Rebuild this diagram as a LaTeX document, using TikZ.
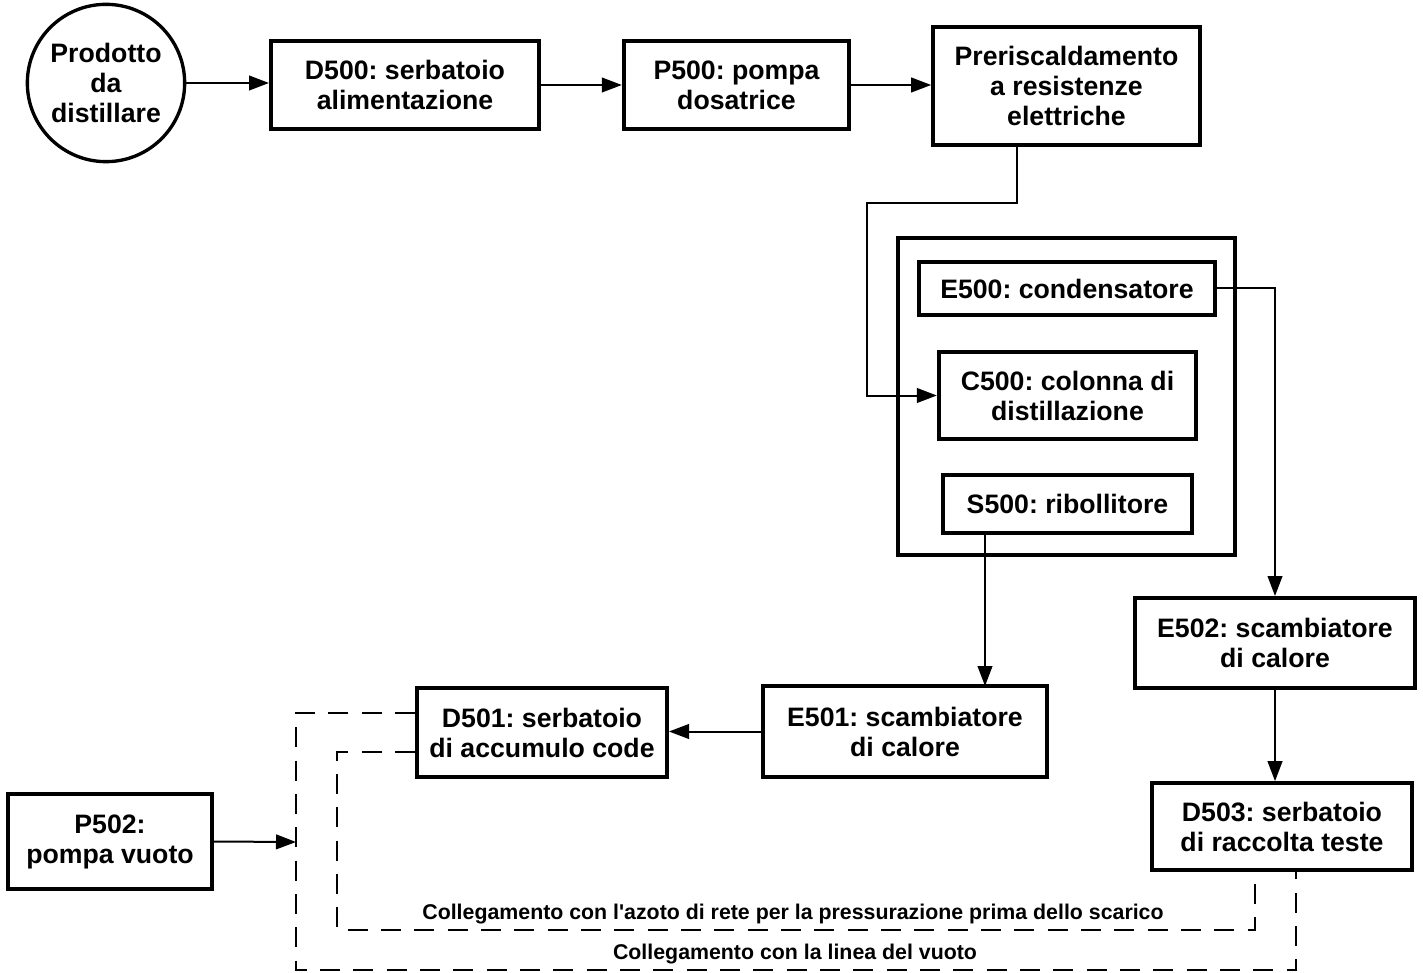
\documentclass[tikz,border=0pt]{standalone}
\usepackage{fontspec}
\setmainfont{Liberation Sans}
\usetikzlibrary{arrows.meta}
\begin{document}
\frenchspacing
\begin{tikzpicture}[x=0.75pt,y=-0.75pt,
  every node/.style={font=\fontsize{20}{22.5}\selectfont\bfseries, align=center, inner sep=0pt},
  box/.style={draw, line width=3pt, rectangle},
  arr/.style={line width=1.5pt, -{Triangle[length=15pt,width=11pt]}},
  conn/.style={line width=1.5pt},
  dsh/.style={line width=1.5pt, dash pattern=on 15pt off 10pt},
  lab/.style={font=\fontsize{16}{18}\selectfont\bfseries}]
\useasboundingbox (0,0) rectangle (1423,973);
\node[draw, circle, line width=2.5pt, minimum size=118pt] (circ) at (106,83) {Prodotto\\da\\distillare};
\node[box, minimum width=201pt, minimum height=66pt] (d500) at (405,85) {D500: serbatoio\\alimentazione};
\node[box, minimum width=169pt, minimum height=66pt] (p500) at (736.5,85) {P500: pompa\\dosatrice};
\node[box, minimum width=200pt, minimum height=88.5pt] (pre) at (1066.5,86) {Preriscaldamento\\a resistenze\\elettriche};
\node[box, minimum width=253pt, minimum height=238pt] (outer) at (1066.5,396.5) {};
\node[box, minimum width=222pt, minimum height=40pt] (e500) at (1067,288.5) {E500: condensatore};
\node[box, minimum width=193pt, minimum height=65pt] (c500) at (1067.5,395.5) {C500: colonna di\\distillazione};
\node[box, minimum width=187pt, minimum height=43.5pt] (s500) at (1067.5,504) {S500: ribollitore};
\node[box, minimum width=210pt, minimum height=67.5pt] (e502) at (1275,643) {E502: scambiatore\\di calore};
\node[box, minimum width=195pt, minimum height=65pt] (d503) at (1282,826.5) {D503: serbatoio\\di raccolta teste};
\node[box, minimum width=213pt, minimum height=68pt] (e501) at (905,731.5) {E501: scambiatore\\di calore};
\node[box, minimum width=187.5pt, minimum height=67pt] (d501) at (542,732.5) {D501: serbatoio\\di accumulo code};
\node[box, minimum width=153pt, minimum height=71pt] (p502) at (110,841.5) {P502:\\pompa vuoto};
\node[lab] (lab1) at (793,914) {Collegamento con l\textquotesingle azoto di rete per la pressurazione prima dello scarico};
\node[lab] (lab2) at (795,954) {Collegamento con la linea del vuoto};
\coordinate (k1) at (1017,203);
\coordinate (k2) at (867,203);
\coordinate (k3) at (985,686);
\coordinate (k4) at (296,842);
\coordinate (o1) at (296,713);
\coordinate (o2) at (296,970);
\coordinate (o3) at (1296,870);
\coordinate (i1) at (337,752);
\coordinate (i2) at (337,930);
\coordinate (i3) at (1255,870);
\draw[arr] (circ.east) -- (d500.west |- circ.east);
\draw[arr] (d500.east) -- (p500.west);
\draw[arr] (p500.east) -- (pre.west |- p500.east);
\draw[arr] (pre.south -| k1) -- (k1) -- (k2) |- (c500.west);
\draw[arr] (e500.east) -| (e502.north);
\draw[arr] (e502.south) -- (e502.south |- d503.north);
\draw[arr] (s500.south -| k3) -- (k3);
\draw[arr] (e501.west) -- (d501.east |- e501.west);
\draw[arr] (p502.east) -- (k4);
\draw[dsh] (d501.west |- o1) -- (o1) -- (o2) -| (d503.south -| o3);
\draw[dsh] (d501.west |- i1) -- (i1) -- (i2) -| (d503.south -| i3);
\end{tikzpicture}
\end{document}
